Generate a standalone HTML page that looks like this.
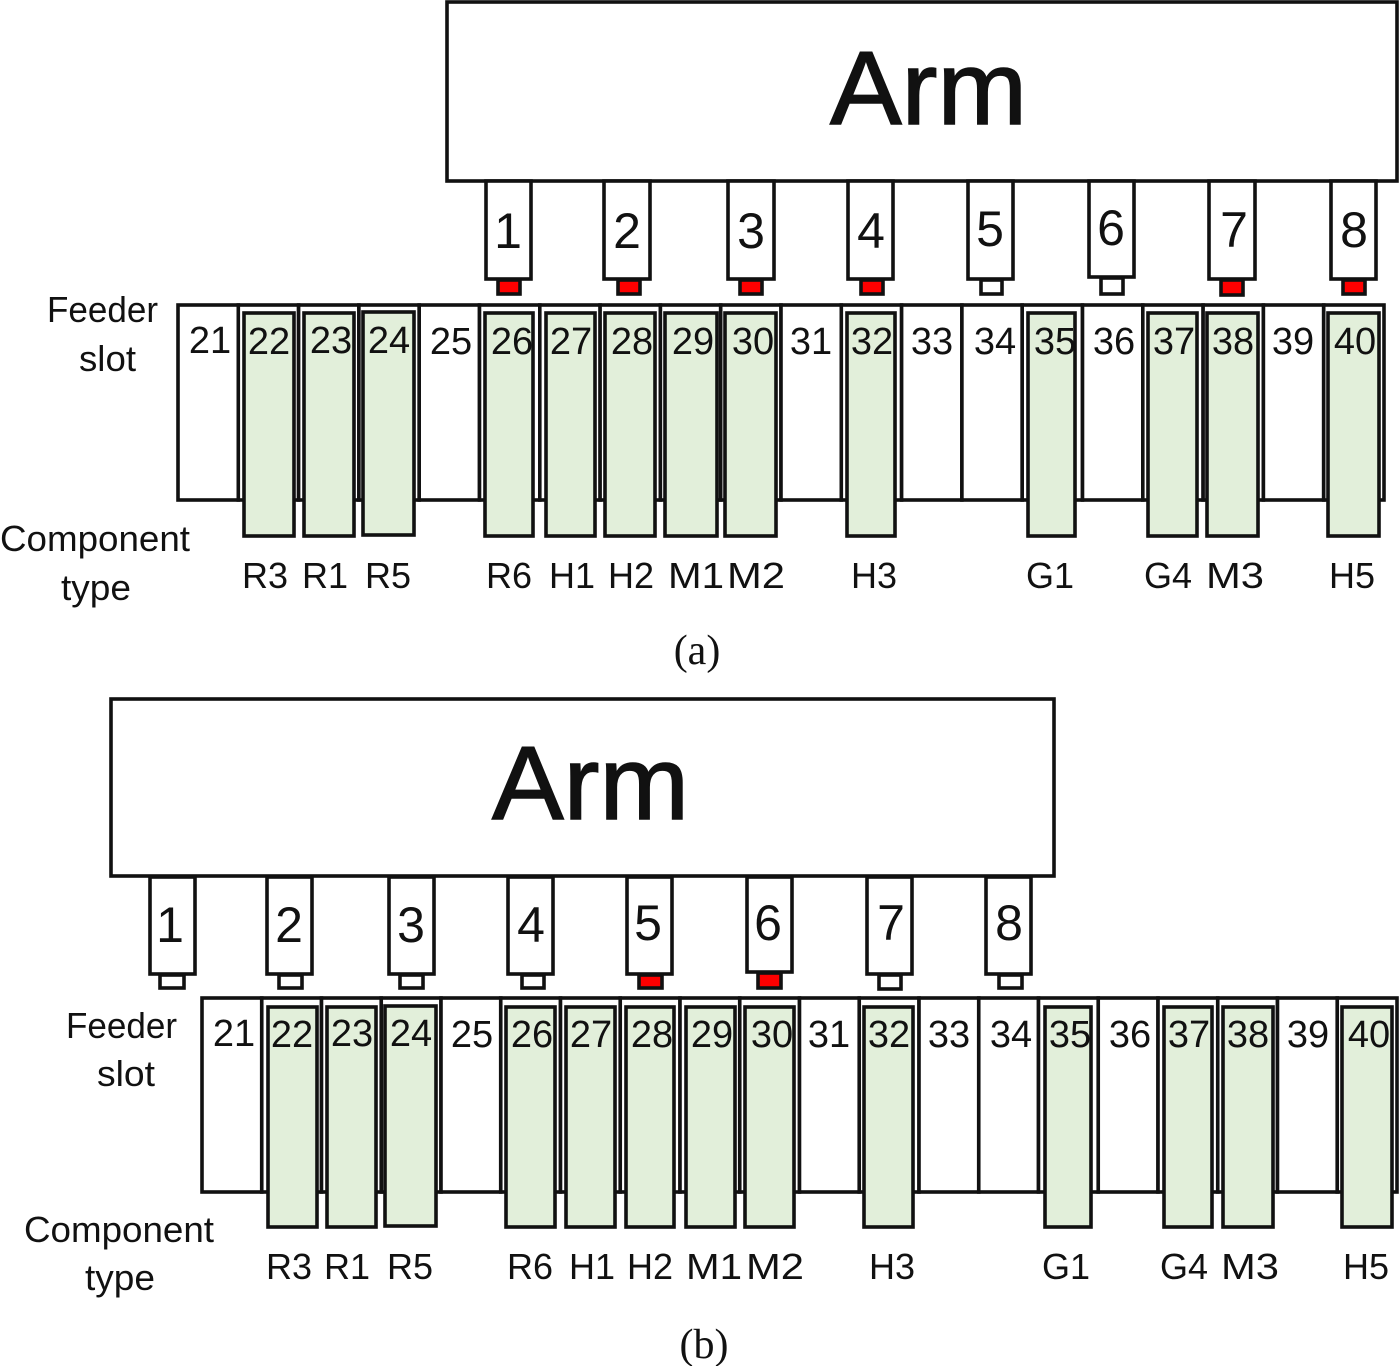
<!DOCTYPE html>
<html><head><meta charset="utf-8">
<style>
html,body{margin:0;padding:0;background:#fff}
svg{display:block}
text{font-family:"Liberation Sans",sans-serif;fill:#111;text-anchor:middle}
.s{font-size:38px;transform:translateY(-1px)}
.n{font-size:50px;transform:translateY(-2px)}
.l{font-size:36px;transform:translateY(-1px)}
.f{transform:none}
.c{font-family:"Liberation Serif",serif;font-size:42px;transform:translateY(-2px)}
.a{font-size:104px;stroke:#111;stroke-width:1.5px}
rect{stroke:#111;stroke-width:3.6;fill:#fff}
.g{fill:#e2efda}
.r{fill:#f00}
</style></head><body>
<svg width="1400" height="1366" viewBox="0 0 1400 1366" xmlns="http://www.w3.org/2000/svg">
<!-- (a) arm -->
<rect x="447" y="2" width="950" height="179"/>
<text class="a" x="928.500" y="124" textLength="197" lengthAdjust="spacingAndGlyphs">Arm</text>
<rect x="486" y="181" width="45" height="98"/><rect x="604" y="181" width="46" height="98"/><rect x="728" y="181" width="46" height="98"/><rect x="848" y="181" width="45" height="98"/><rect x="968" y="181" width="45" height="98"/><rect x="1089" y="181" width="45" height="96"/><rect x="1209" y="181" width="46" height="98"/><rect x="1331" y="181" width="45" height="98"/>
<rect class="r" x="498" y="280" width="22" height="14"/><rect class="r" x="618" y="280" width="22" height="14"/><rect class="r" x="740" y="280" width="22" height="14"/><rect class="r" x="861" y="280" width="22" height="14"/><rect x="981" y="280" width="21" height="14"/><rect x="1101" y="278" width="22" height="16"/><rect class="r" x="1221" y="280" width="22" height="15"/><rect class="r" x="1343" y="280" width="22" height="14"/>
<text class="n" x="508" y="250">1</text><text class="n" x="627" y="250">2</text><text class="n" x="751" y="250">3</text><text class="n" x="871" y="250">4</text><text class="n" x="990" y="248">5</text><text class="n" x="1111" y="247">6</text><text class="n" x="1234" y="249">7</text><text class="n" x="1354" y="249">8</text>
<!-- (a) slots -->
<g>
<rect x="178" y="305" width="60.300" height="195"/><rect x="238.300" y="305" width="60.300" height="195"/><rect x="298.600" y="305" width="60.300" height="195"/><rect x="358.900" y="305" width="60.300" height="195"/><rect x="419.200" y="305" width="60.300" height="195"/><rect x="479.500" y="305" width="60.300" height="195"/><rect x="539.800" y="305" width="60.300" height="195"/><rect x="600.100" y="305" width="60.300" height="195"/><rect x="660.400" y="305" width="60.300" height="195"/><rect x="720.700" y="305" width="60.300" height="195"/><rect x="781" y="305" width="60.300" height="195"/><rect x="841.300" y="305" width="60.300" height="195"/><rect x="901.600" y="305" width="60.300" height="195"/><rect x="961.900" y="305" width="60.300" height="195"/><rect x="1022.200" y="305" width="60.300" height="195"/><rect x="1082.500" y="305" width="60.300" height="195"/><rect x="1142.800" y="305" width="60.300" height="195"/><rect x="1203.100" y="305" width="60.300" height="195"/><rect x="1263.400" y="305" width="60.300" height="195"/><rect x="1323.700" y="305" width="60.300" height="195"/>
</g>
<g>
<rect class="g" x="244" y="313" width="50" height="223"/><rect class="g" x="304" y="313" width="50" height="223"/><rect class="g" x="363" y="312" width="51" height="223"/><rect class="g" x="485" y="313" width="48" height="223"/><rect class="g" x="546" y="313" width="49" height="223"/><rect class="g" x="605" y="313" width="50" height="223"/><rect class="g" x="665" y="313" width="52" height="223"/><rect class="g" x="725" y="313" width="51" height="223"/><rect class="g" x="847" y="313" width="48" height="223"/><rect class="g" x="1028" y="313" width="47" height="223"/><rect class="g" x="1148" y="313" width="49" height="223"/><rect class="g" x="1207" y="313" width="51" height="223"/><rect class="g" x="1328" y="313" width="51" height="223"/>
</g>
<g>
<text class="s" x="210" y="354">21</text><text class="s" x="269" y="355">22</text><text class="s" x="331" y="354">23</text><text class="s" x="389" y="354">24</text><text class="s" x="451" y="355">25</text><text class="s" x="512" y="355">26</text><text class="s" x="571" y="355">27</text><text class="s" x="632" y="355">28</text><text class="s" x="693" y="355">29</text><text class="s" x="753" y="355">30</text><text class="s" x="811" y="355">31</text><text class="s" x="872" y="355">32</text><text class="s" x="932" y="355">33</text><text class="s" x="995" y="355">34</text><text class="s" x="1055" y="355">35</text><text class="s" x="1114" y="355">36</text><text class="s" x="1174" y="355">37</text><text class="s" x="1233" y="355">38</text><text class="s" x="1293" y="355">39</text><text class="s" x="1355" y="355">40</text>
</g>
<text class="l f" x="102.500" y="322" textLength="111" lengthAdjust="spacingAndGlyphs">Feeder</text>
<text class="l f" x="107.500" y="371" textLength="57" lengthAdjust="spacingAndGlyphs">slot</text>
<text class="l f" x="95" y="551" textLength="190" lengthAdjust="spacingAndGlyphs">Component</text>
<text class="l f" x="96" y="600" textLength="70" lengthAdjust="spacingAndGlyphs">type</text>
<text class="l" x="265" y="589">R3</text><text class="l" x="325" y="589">R1</text><text class="l" x="388" y="589">R5</text><text class="l" x="509" y="589">R6</text><text class="l" x="572" y="589">H1</text><text class="l" x="631" y="589">H2</text><text class="l" x="696" y="589" textLength="56" lengthAdjust="spacingAndGlyphs">M1</text><text class="l" x="756" y="589" textLength="58" lengthAdjust="spacingAndGlyphs">M2</text><text class="l" x="874" y="589">H3</text><text class="l" x="1050" y="589">G1</text><text class="l" x="1168" y="589">G4</text><text class="l" x="1235" y="589" textLength="58" lengthAdjust="spacingAndGlyphs">M3</text><text class="l" x="1352" y="589">H5</text>
<text class="c" x="697" y="666">(a)</text>

<!-- (b) arm -->
<rect x="111" y="699" width="943" height="177"/>
<text class="a" x="590.500" y="819" textLength="197" lengthAdjust="spacingAndGlyphs">Arm</text>
<rect x="150" y="877" width="45" height="97"/><rect x="267" y="877" width="45" height="97"/><rect x="389" y="877" width="45" height="97"/><rect x="508" y="877" width="45" height="97"/><rect x="627" y="877" width="45" height="97"/><rect x="747" y="877" width="45" height="95"/><rect x="867" y="877" width="45" height="97"/><rect x="986" y="877" width="45" height="97"/>
<rect x="160" y="975" width="24" height="13"/><rect x="279" y="975" width="23" height="13"/><rect x="400" y="975" width="23" height="13"/><rect x="522" y="975" width="22" height="13"/><rect class="r" x="639" y="975" width="23" height="13"/><rect class="r" x="758" y="973" width="23" height="15"/><rect x="879" y="975" width="22" height="14"/><rect x="999" y="975" width="23" height="13"/>
<text class="n" x="170" y="944">1</text><text class="n" x="289" y="944">2</text><text class="n" x="411" y="944">3</text><text class="n" x="531" y="944">4</text><text class="n" x="648" y="942">5</text><text class="n" x="768" y="942">6</text><text class="n" x="891" y="942">7</text><text class="n" x="1009" y="942">8</text>
<!-- (b) slots -->
<g>
<rect x="202" y="998" width="59.750" height="194"/><rect x="261.750" y="998" width="59.750" height="194"/><rect x="321.500" y="998" width="59.750" height="194"/><rect x="381.250" y="998" width="59.750" height="194"/><rect x="441" y="998" width="59.750" height="194"/><rect x="500.750" y="998" width="59.750" height="194"/><rect x="560.500" y="998" width="59.750" height="194"/><rect x="620.250" y="998" width="59.750" height="194"/><rect x="680" y="998" width="59.750" height="194"/><rect x="739.750" y="998" width="59.750" height="194"/><rect x="799.500" y="998" width="59.750" height="194"/><rect x="859.250" y="998" width="59.750" height="194"/><rect x="919" y="998" width="59.750" height="194"/><rect x="978.750" y="998" width="59.750" height="194"/><rect x="1038.500" y="998" width="59.750" height="194"/><rect x="1098.250" y="998" width="59.750" height="194"/><rect x="1158" y="998" width="59.750" height="194"/><rect x="1217.750" y="998" width="59.750" height="194"/><rect x="1277.500" y="998" width="59.750" height="194"/><rect x="1337.250" y="998" width="59.750" height="194"/>
</g>
<g>
<rect class="g" x="268" y="1007" width="49" height="220"/><rect class="g" x="327" y="1007" width="49" height="220"/><rect class="g" x="385" y="1006" width="51" height="220"/><rect class="g" x="506" y="1007" width="49" height="220"/><rect class="g" x="566" y="1007" width="49" height="220"/><rect class="g" x="626" y="1007" width="48" height="220"/><rect class="g" x="686" y="1007" width="49" height="220"/><rect class="g" x="745" y="1007" width="49" height="220"/><rect class="g" x="864" y="1007" width="49" height="220"/><rect class="g" x="1045" y="1007" width="46" height="220"/><rect class="g" x="1164" y="1007" width="48" height="220"/><rect class="g" x="1223" y="1007" width="50" height="220"/><rect class="g" x="1342" y="1007" width="50" height="220"/>
</g>
<g>
<text class="s" x="234" y="1047">21</text><text class="s" x="292" y="1048">22</text><text class="s" x="352" y="1047">23</text><text class="s" x="411" y="1047">24</text><text class="s" x="472" y="1048">25</text><text class="s" x="532" y="1048">26</text><text class="s" x="591" y="1048">27</text><text class="s" x="652" y="1048">28</text><text class="s" x="712" y="1048">29</text><text class="s" x="772" y="1048">30</text><text class="s" x="829" y="1048">31</text><text class="s" x="889" y="1048">32</text><text class="s" x="949" y="1048">33</text><text class="s" x="1011" y="1048">34</text><text class="s" x="1070" y="1048">35</text><text class="s" x="1130" y="1048">36</text><text class="s" x="1189" y="1048">37</text><text class="s" x="1248" y="1048">38</text><text class="s" x="1308" y="1048">39</text><text class="s" x="1369" y="1048">40</text>
</g>
<text class="l f" x="121.500" y="1038" textLength="111" lengthAdjust="spacingAndGlyphs">Feeder</text>
<text class="l f" x="126" y="1086" textLength="58" lengthAdjust="spacingAndGlyphs">slot</text>
<text class="l f" x="119" y="1242" textLength="190" lengthAdjust="spacingAndGlyphs">Component</text>
<text class="l f" x="120" y="1290" textLength="70" lengthAdjust="spacingAndGlyphs">type</text>
<text class="l" x="289" y="1280">R3</text><text class="l" x="347" y="1280">R1</text><text class="l" x="410" y="1280">R5</text><text class="l" x="530" y="1280">R6</text><text class="l" x="592" y="1280">H1</text><text class="l" x="650" y="1280">H2</text><text class="l" x="714" y="1280" textLength="56" lengthAdjust="spacingAndGlyphs">M1</text><text class="l" x="775" y="1280" textLength="58" lengthAdjust="spacingAndGlyphs">M2</text><text class="l" x="892" y="1280">H3</text><text class="l" x="1066" y="1280">G1</text><text class="l" x="1184" y="1280">G4</text><text class="l" x="1250" y="1280" textLength="58" lengthAdjust="spacingAndGlyphs">M3</text><text class="l" x="1366" y="1280">H5</text>
<text class="c" x="704" y="1360">(b)</text>
</svg>
</body></html>
